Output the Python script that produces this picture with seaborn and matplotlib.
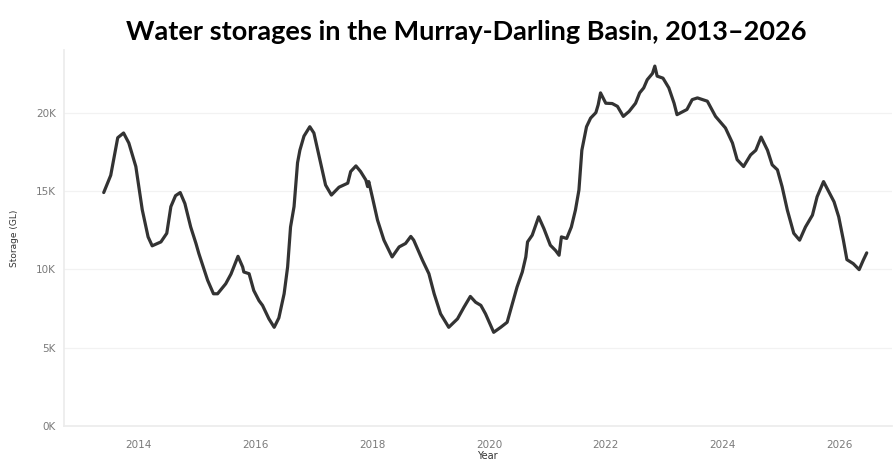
import numpy as np
import pandas as pd
import matplotlib
matplotlib.use("Agg")
import matplotlib.pyplot as plt
import matplotlib.ticker as mticker
import seaborn as sns

# values (decimal year, storage in GL)
years = [
    2013.40, 2013.52, 2013.64, 2013.74, 2013.83, 2013.95, 2014.06, 2014.16, 2014.23, 2014.38,
    2014.48, 2014.55, 2014.63, 2014.71, 2014.79, 2014.89, 2014.98, 2015.03, 2015.18, 2015.28,
    2015.35, 2015.49, 2015.58, 2015.70, 2015.78, 2015.80, 2015.89, 2015.97, 2016.06, 2016.12,
    2016.23, 2016.32, 2016.40, 2016.49, 2016.55, 2016.60, 2016.66, 2016.72, 2016.76, 2016.83,
    2016.93, 2017.00, 2017.09, 2017.20, 2017.30, 2017.43, 2017.58, 2017.63, 2017.72, 2017.80,
    2017.89, 2017.92, 2017.94, 2018.00, 2018.09, 2018.20, 2018.34, 2018.46, 2018.57, 2018.66,
    2018.71, 2018.86, 2018.97, 2019.06, 2019.17, 2019.31, 2019.46, 2019.57, 2019.68, 2019.77,
    2019.86, 2019.94, 2020.08, 2020.20, 2020.31, 2020.40, 2020.48, 2020.57, 2020.63, 2020.66,
    2020.74, 2020.85, 2020.94, 2021.05, 2021.14, 2021.20, 2021.24, 2021.33, 2021.41, 2021.48,
    2021.54, 2021.59, 2021.67, 2021.74, 2021.83, 2021.87, 2021.91, 2022.00, 2022.11, 2022.20,
    2022.30, 2022.40, 2022.51, 2022.58, 2022.65, 2022.71, 2022.80, 2022.84, 2022.88, 2022.98,
    2023.08, 2023.17, 2023.22, 2023.39, 2023.48, 2023.57, 2023.74, 2023.88, 2024.05, 2024.17,
    2024.25, 2024.36, 2024.48, 2024.57, 2024.66, 2024.77, 2024.85, 2024.94, 2025.02, 2025.11,
    2025.22, 2025.32, 2025.42, 2025.54, 2025.62, 2025.73, 2025.82, 2025.91, 2025.99, 2026.07,
    2026.13, 2026.24, 2026.34, 2026.41, 2026.47,
]
storage_gl = [
    14900, 16000, 18400, 18700, 18060, 16560, 13800, 12070, 11500, 11750,
    12300, 14000, 14700, 14900, 14200, 12700, 11650, 11000, 9300, 8440,
    8440, 9080, 9700, 10830, 10150, 9830, 9720, 8650, 8000, 7700,
    6840, 6300, 6900, 8440, 10150, 12700, 14000, 16800, 17600, 18500,
    19100, 18700, 17200, 15380, 14740, 15240, 15500, 16240, 16600, 16240,
    15700, 15280, 15600, 14630, 13140, 11860, 10790, 11430, 11650, 12100,
    11860, 10580, 9720, 8440, 7160, 6300, 6840, 7580, 8270, 7900,
    7700, 7160, 5980, 6300, 6620, 7800, 8870, 9830, 10790, 11750,
    12180, 13350, 12600, 11540, 11200, 10900, 12070, 11970, 12700, 13780,
    15060, 17600, 19100, 19650, 20000, 20500, 21260, 20600, 20580, 20400,
    19760, 20080, 20600, 21260, 21580, 22100, 22500, 22970, 22330, 22200,
    21580, 20600, 19870, 20200, 20830, 20940, 20730, 19760, 19020, 18060,
    17000, 16560, 17300, 17600, 18440, 17600, 16670, 16350, 15280, 13780,
    12300, 11860, 12700, 13460, 14630, 15600, 14960, 14310, 13350, 11860,
    10620, 10360, 9980, 10580, 11050,
]
y_ticks = [0, 5000, 10000, 15000, 20000]
x_ticks = [2014, 2016, 2018, 2020, 2022, 2024, 2026]

df = pd.DataFrame({"Year": years, "Storage (GL)": storage_gl})

sns.set_theme(style="white")
plt.rcParams["font.family"] = ["DejaVu Sans"]

fig = plt.figure(figsize=(8.93, 4.66), dpi=100)
ax = fig.add_axes([0.0717, 0.0858, 0.927, 0.807])

sns.lineplot(data=df, x="Year", y="Storage (GL)", ax=ax, color="#333333", linewidth=2.3)

ax.set_xlim(2012.72, 2026.9)
ax.set_ylim(0, 24000)
ax.set_yticks(y_ticks)
ax.set_xticks(x_ticks)
ax.xaxis.set_minor_locator(mticker.MultipleLocator(1))
ax.yaxis.set_major_formatter(mticker.FuncFormatter(lambda v, p: f"{int(v / 1000)}K"))

ax.grid(axis="y", color="#f2f2f2", linewidth=0.9)
ax.set_axisbelow(True)
for s in ["top", "right"]:
    ax.spines[s].set_visible(False)
ax.spines["left"].set_color("#ececec")
ax.spines["bottom"].set_color("#ececec")

ax.tick_params(axis="both", which="both", labelsize=7.5, labelcolor="#7a7a7a")
ax.tick_params(axis="x", which="both", length=3, color="#ececec", pad=7)
ax.tick_params(axis="y", length=0, pad=6)

ax.set_xlabel("Year", fontsize=7, color="#333333")
ax.xaxis.set_label_coords(0.511, -0.066)
ax.set_ylabel("Storage (GL)", fontsize=6.5, color="#333333", labelpad=12)

fig.text(0.522, 0.932, "Water storages in the Murray-Darling Basin, 2013\u20132026",
         ha="center", va="center", fontsize=19.5, fontweight="bold", color="black",
         family=["Lato", "DejaVu Sans"])

fig.savefig("out.png", dpi=100)
